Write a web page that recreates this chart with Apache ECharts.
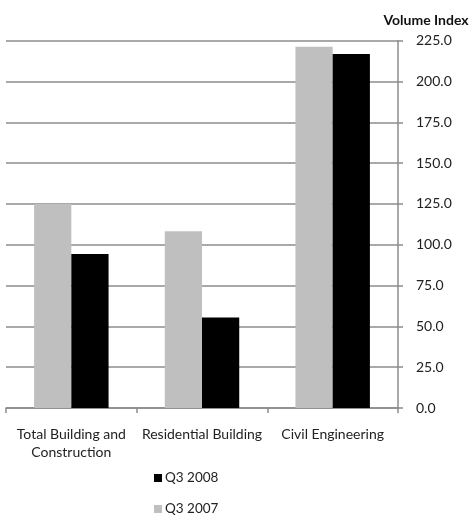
<!DOCTYPE html>
<html>
<head>
<meta charset="utf-8">
<script src="https://cdn.jsdelivr.net/npm/echarts@6/dist/echarts.min.js"></script>
<style>
html,body{margin:0;padding:0;background:#fff;}
#chart{width:470px;height:516px;}
</style>
</head>
<body>
<div id="chart"></div>
<script>
const categories = ["Total Building and\nConstruction", "Residential Building", "Civil Engineering"];
const q3_2007 = [125.0, 108.2, 221.3];
const q3_2008 = [94.3, 55.5, 216.9];
const yTicks = { min: 0, max: 225, interval: 25 };

const chart = echarts.init(document.getElementById('chart'), null, { renderer: 'canvas' });
const font = "Lato, 'Open Sans', 'DejaVu Sans', sans-serif";
chart.setOption({
  animation: false,
  textStyle: { fontFamily: font },
  grid: { left: 6, right: 72, top: 40.7, bottom: 108, containLabel: false, outerBoundsMode: 'none' },
  legend: {
    orient: 'vertical',
    left: 154,
    top: 469,
    height: 60,
    padding: 0,
    itemGap: 13,
    itemWidth: 8,
    itemHeight: 8,
    icon: 'rect',
    data: ['Q3 2008', 'Q3 2007'],
    textStyle: { fontFamily: font, fontSize: 13.5, lineHeight: 18, color: '#222', padding: [0, 0, 0, -2] }
  },
  xAxis: {
    type: 'category',
    data: categories,
    axisLine: { show: true, lineStyle: { color: '#8c8c8c', width: 1.5 } },
    axisTick: { show: true, alignWithLabel: false, length: 5, lineStyle: { color: '#8c8c8c', width: 1.5 } },
    axisLabel: { fontFamily: font, fontSize: 14, color: '#222', margin: 17, lineHeight: 18, interval: 0 },
    splitLine: { show: false }
  },
  yAxis: {
    type: 'value',
    position: 'right',
    min: yTicks.min, max: yTicks.max, interval: yTicks.interval,
    name: 'Volume Index',
    nameLocation: 'end',
    nameGap: 13,
    nameTextStyle: { fontFamily: font, fontSize: 14, fontWeight: 'bold', color: '#111', align: 'center', padding: [0, 0, 0, 56] },
    axisLine: { show: true, lineStyle: { color: '#8c8c8c', width: 1.5 } },
    axisTick: { show: true, length: 5, lineStyle: { color: '#8c8c8c', width: 1.5 } },
    axisLabel: { fontFamily: font, fontSize: 14, color: '#222', margin: 18, formatter: v => v.toFixed(1) },
    splitLine: { show: true, lineStyle: { color: '#8c8c8c', width: 1.5 } }
  },
  series: [
    { name: 'Q3 2007', type: 'bar', data: q3_2007, barGap: '0%', barCategoryGap: '43%', itemStyle: { color: '#bfbfbf' } },
    { name: 'Q3 2008', type: 'bar', data: q3_2008, barGap: '0%', barCategoryGap: '43%', itemStyle: { color: '#000000' } }
  ]
});
</script>
</body>
</html>
